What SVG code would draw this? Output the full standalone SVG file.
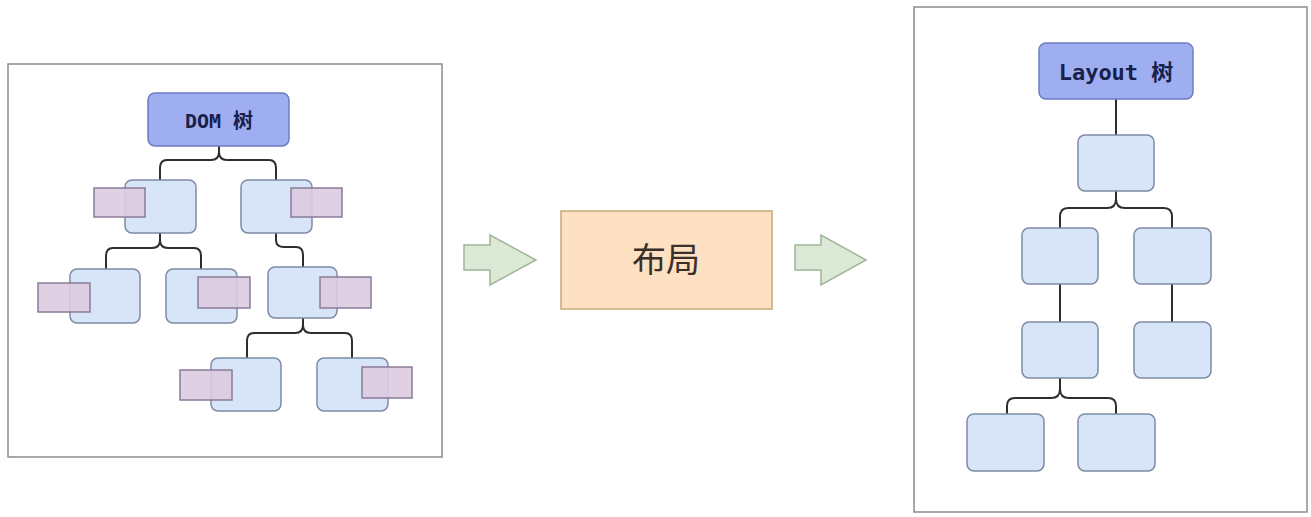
<svg xmlns="http://www.w3.org/2000/svg" width="1311" height="517" viewBox="0 0 1311 517">
<style>
.frame{fill:#ffffff;stroke:#8c8c8c;stroke-width:1.5}
.head{fill:#9eaef0;stroke:#6d7cc0;stroke-width:1.5}
.node{fill:#d8e4f8;stroke:#7d8aa6;stroke-width:1.5}
.tag{fill:#dccbe0;fill-opacity:0.9;stroke:#8a7b98;stroke-width:1.5}
.link{fill:none;stroke:#2e2e2e;stroke-width:2}
.arrow{fill:#dde9d7;stroke:#9fb598;stroke-width:1.5}
.proc{fill:#fde1c2;stroke:#c8a874;stroke-width:1.5}
.ht{font-family:"DejaVu Sans Mono","Liberation Mono","Noto Sans CJK SC",monospace;font-weight:bold;fill:#17204a;text-anchor:middle}
.pt{font-family:"Noto Sans CJK SC","Noto Sans",sans-serif;font-size:34px;fill:#3a3028;text-anchor:middle}
</style>
<rect width="1311" height="517" fill="#ffffff"/>
<rect class="frame" x="8" y="64" width="434" height="393"/>
<rect class="frame" x="914" y="7" width="393" height="505"/>

<g id="connectors">
  <!-- DOM tree -->
  <path class="link" d="M219 146 V152 Q219 160 211 160 H167 Q160 160 160 168 V180"/>
  <path class="link" d="M219 146 V152 Q219 160 227 160 H269 Q276 160 276 168 V180"/>
  <path class="link" d="M160 233 V240 Q160 248 152 248 H113 Q106 248 106 256 V269"/>
  <path class="link" d="M160 233 V240 Q160 248 168 248 H194 Q201 248 201 256 V269"/>
  <path class="link" d="M276 233 V240 Q276 247 284 247 H296 Q303 247 303 255 V267"/>
  <path class="link" d="M303 318 V325 Q303 333 295 333 H254 Q247 333 247 341 V358"/>
  <path class="link" d="M303 318 V325 Q303 333 311 333 H345 Q352 333 352 341 V358"/>
  <!-- Layout tree -->
  <path class="link" d="M1116 99 V135"/>
  <path class="link" d="M1116 191 V199 Q1116 208 1107 208 H1068 Q1060 208 1060 217 V228"/>
  <path class="link" d="M1116 191 V199 Q1116 208 1125 208 H1164 Q1172 208 1172 217 V228"/>
  <path class="link" d="M1060 284 V322"/>
  <path class="link" d="M1172 284 V322"/>
  <path class="link" d="M1060 378 V389 Q1060 398 1051 398 H1015 Q1007 398 1007 406 V414"/>
  <path class="link" d="M1060 378 V389 Q1060 398 1069 398 H1108 Q1116 398 1116 406 V414"/>
  <!-- flow arrows -->
  <path class="arrow" d="M464 245 H490 V235 L536 260 L490 285 V270 H464 Z"/>
  <path class="arrow" d="M795 245 H821 V235 L866 260 L821 285 V270 H795 Z"/>
</g>

<g id="dom-root"><rect class="head" x="148" y="93" width="141" height="53" rx="7"/><text class="ht" x="219" y="128" font-size="20">DOM 树</text></g>
<g id="dom-n1"><rect class="node" x="125" y="180" width="71" height="53" rx="7"/><rect class="tag" x="94" y="188" width="51" height="29"/></g>
<g id="dom-n2"><rect class="node" x="241" y="180" width="71" height="53" rx="7"/><rect class="tag" x="291" y="188" width="51" height="29"/></g>
<g id="dom-n3"><rect class="node" x="70" y="269" width="70" height="54" rx="7"/><rect class="tag" x="38" y="283" width="52" height="29"/></g>
<g id="dom-n4"><rect class="node" x="166" y="269" width="71" height="54" rx="7"/><rect class="tag" x="198" y="277" width="52" height="31"/></g>
<g id="dom-n5"><rect class="node" x="268" y="267" width="69" height="51" rx="7"/><rect class="tag" x="320" y="277" width="51" height="31"/></g>
<g id="dom-n6"><rect class="node" x="211" y="358" width="70" height="53" rx="7"/><rect class="tag" x="180" y="370" width="52" height="30"/></g>
<g id="dom-n7"><rect class="node" x="317" y="358" width="71" height="53" rx="7"/><rect class="tag" x="362" y="367" width="50" height="31"/></g>

<g id="layout-process"><rect class="proc" x="561" y="211" width="211" height="98"/><text class="pt" x="666" y="272">布局</text></g>

<g id="layout-root"><rect class="head" x="1039" y="43" width="154" height="56" rx="7"/><text class="ht" x="1116" y="80" font-size="22">Layout 树</text></g>
<g id="layout-n1"><rect class="node" x="1078" y="135" width="76" height="56" rx="7"/></g>
<g id="layout-n2"><rect class="node" x="1022" y="228" width="76" height="56" rx="7"/></g>
<g id="layout-n3"><rect class="node" x="1134" y="228" width="77" height="56" rx="7"/></g>
<g id="layout-n4"><rect class="node" x="1022" y="322" width="76" height="56" rx="7"/></g>
<g id="layout-n5"><rect class="node" x="1134" y="322" width="77" height="56" rx="7"/></g>
<g id="layout-n6"><rect class="node" x="967" y="414" width="77" height="57" rx="7"/></g>
<g id="layout-n7"><rect class="node" x="1078" y="414" width="77" height="57" rx="7"/></g>
</svg>
